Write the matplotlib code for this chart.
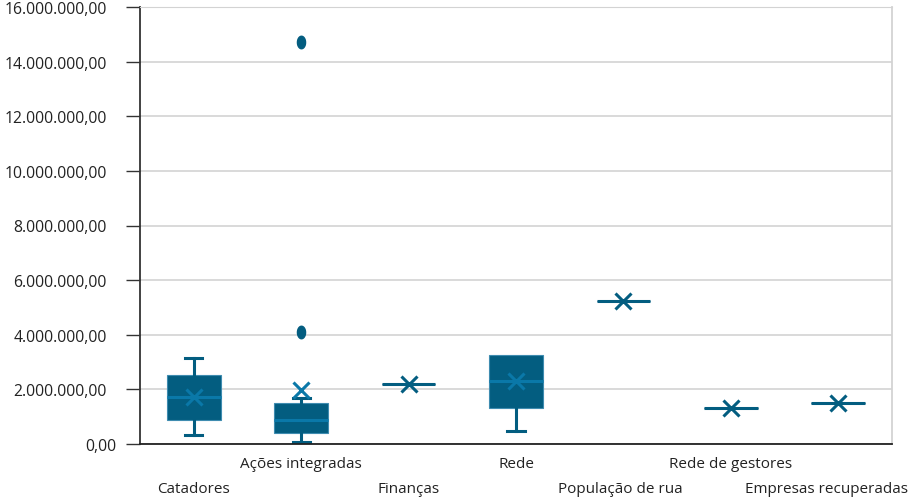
import matplotlib
matplotlib.use("Agg")
import matplotlib.pyplot as plt
from matplotlib.transforms import ScaledTranslation
import numpy as np

categories = ["Catadores", "Ações integradas", "Finanças", "Rede",
              "População de rua", "Rede de gestores", "Empresas recuperadas"]
whislo = [0.34e6, 0.08e6, 2.18e6, 0.48e6, 5.25e6, 1.31e6, 1.51e6]
q1     = [0.88e6, 0.40e6, 2.18e6, 1.32e6, 5.25e6, 1.31e6, 1.51e6]
med    = [1.73e6, 0.88e6, 2.18e6, 2.30e6, 5.25e6, 1.31e6, 1.51e6]
q3     = [2.54e6, 1.51e6, 2.18e6, 3.26e6, 5.25e6, 1.31e6, 1.51e6]
whishi = [3.16e6, 1.68e6, 2.18e6, 3.26e6, 5.25e6, 1.31e6, 1.51e6]
means  = [1.73e6, 1.98e6, 2.18e6, 2.30e6, 5.25e6, 1.31e6, 1.51e6]
fliers = [[], [4.09e6, 14.72e6], [], [], [], [], []]
yticks = [0, 2e6, 4e6, 6e6, 8e6, 10e6, 12e6, 14e6, 16e6]

DARK = "#035d80"
LIGHT = "#0a78a8"

plt.rcParams['font.family'] = ['Open Sans', 'DejaVu Sans']

fig = plt.figure(figsize=(9.15, 5.02), dpi=100)
ax = fig.add_axes([140/915, 1-445/502, 752/915, 437/502])

stats = []
for i in range(len(categories)):
    stats.append(dict(whislo=whislo[i], q1=q1[i], med=med[i], q3=q3[i],
                      whishi=whishi[i], mean=means[i], fliers=fliers[i]))

pos = np.arange(len(categories))
bp = ax.bxp(stats, positions=pos, widths=0.5, patch_artist=True,
            showmeans=True, meanline=False, capwidths=0.16,
            boxprops=dict(facecolor=DARK, edgecolor="#3f8cb0", linewidth=0.8),
            medianprops=dict(color=LIGHT, linewidth=2.2),
            whiskerprops=dict(color=DARK, linewidth=2.2),
            capprops=dict(color=DARK, linewidth=2.2),
            meanprops=dict(marker='x', markersize=11, markeredgewidth=2.2,
                           markeredgecolor=LIGHT, markerfacecolor='none'),
            flierprops=dict(marker='o', markersize=5, markerfacecolor=DARK,
                            markeredgecolor=DARK))

for i in range(len(categories)):
    if q1[i] == q3[i]:
        bp['medians'][i].set_color(DARK)
        bp['means'][i].set_markeredgecolor(DARK)
        bp['boxes'][i].set_edgecolor(DARK)
        bp['caps'][2*i].set_visible(False)
        bp['caps'][2*i+1].set_visible(False)
    if q3[i] == whishi[i]:
        bp['caps'][2*i+1].set_visible(False)
theta = np.linspace(0, 2*np.pi, 40)
ell = matplotlib.path.Path(np.column_stack([0.65*np.cos(theta), np.sin(theta)]))
for f in bp['fliers']:
    f.set_marker(ell)
    f.set_markersize(9)

ax.set_xlim(-0.5, len(categories)-0.5)
ax.set_ylim(0, 16e6)
ax.set_yticks(yticks)
ax.set_yticklabels([f"{v:,.2f}".replace(",", "X").replace(".", ",").replace("X", ".")
                    for v in yticks], fontsize=11.3, color="#222222")
ax.yaxis.grid(True, color="#d3d3d3", linewidth=1.2)
ax.set_axisbelow(True)
ax.tick_params(axis='y', length=10, width=1, color="#333333", pad=14)

# alternating category labels: odd ones on the upper row, even ones lower
ax.set_xticks(pos[1::2])
ax.set_xticklabels(categories[1::2], fontsize=11, color="#222222")
ax.set_xticks(pos[0::2], minor=True)
ax.set_xticklabels(categories[0::2], minor=True, fontsize=11, color="#222222")
ax.tick_params(axis='x', which='major', length=0, pad=9)
ax.tick_params(axis='x', which='minor', length=0, pad=27)

ylabs = ax.get_yticklabels()
ylabs[0].set_transform(ylabs[0].get_transform() + ScaledTranslation(10/100, 0, fig.dpi_scale_trans))
mlabs = ax.get_xticklabels(minor=True)
mlabs[-1].set_transform(mlabs[-1].get_transform() + ScaledTranslation(-12/100, 0, fig.dpi_scale_trans))
mlabs[2].set_transform(mlabs[2].get_transform() + ScaledTranslation(-3/100, 0, fig.dpi_scale_trans))

ax.spines['left'].set_color("#333333")
ax.spines['left'].set_linewidth(1.3)
ax.spines['bottom'].set_color("#222222")
ax.spines['bottom'].set_linewidth(1.3)
ax.spines['top'].set_color("#d3d3d3")
ax.spines['right'].set_color("#d3d3d3")
ax.spines['right'].set_linewidth(1.3)

fig.savefig("out.png", dpi=100)
